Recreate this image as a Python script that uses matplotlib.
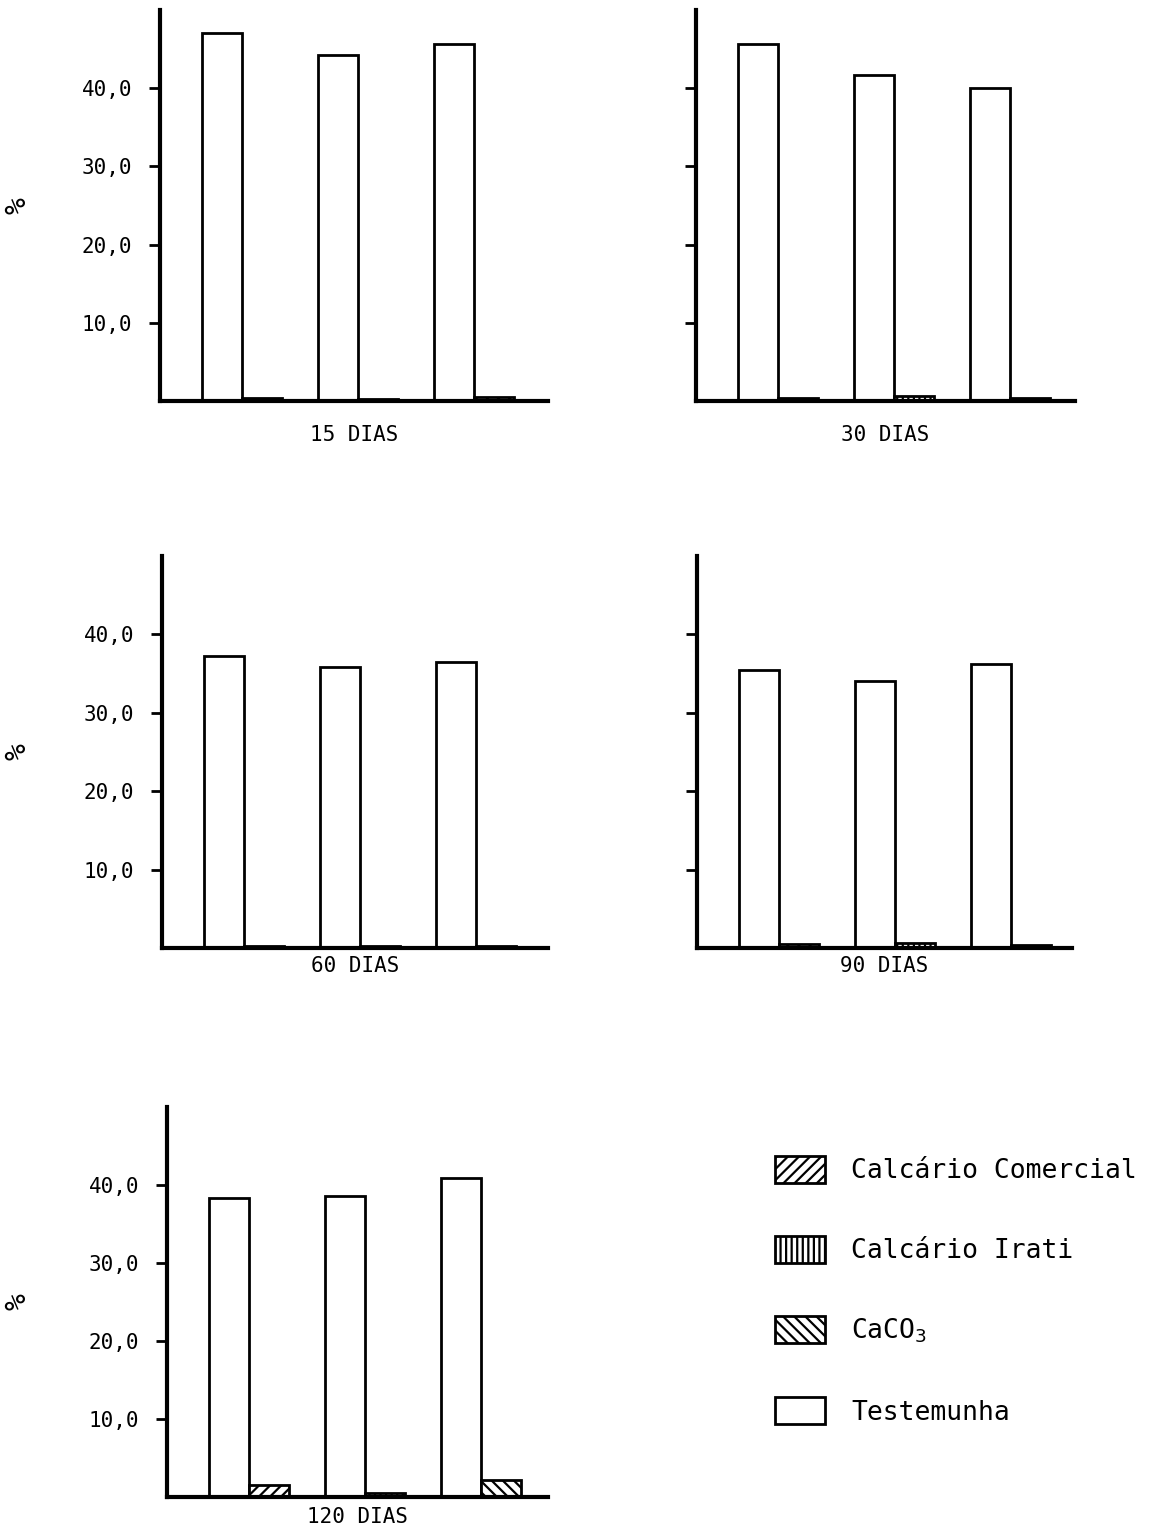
import matplotlib
matplotlib.use("Agg")
import matplotlib.pyplot as plt
from matplotlib.patches import Patch

# periodos de incubacao
dias = ["15 DIAS", "30 DIAS", "60 DIAS", "90 DIAS", "120 DIAS"]
tratamentos = ["Calcário Comercial", "Calcário Irati", "CaCO$_3$"]
hachuras = ["///", "|||", "\\\\\\"]

# % na testemunha (barra alta) e no tratamento (barra baixa), um grupo por corretivo
testemunha = [
    [47.0, 44.3, 45.6],
    [45.7, 41.7, 40.0],
    [37.3, 35.9, 36.5],
    [35.5, 34.0, 36.2],
    [38.3, 38.6, 40.9],
]
tratado = [
    [0.4, 0.3, 0.5],
    [0.4, 0.6, 0.4],
    [0.3, 0.3, 0.3],
    [0.5, 0.6, 0.4],
    [1.5, 0.5, 2.2],
]

yticks = [10, 20, 30, 40]
ytick_labels = ["10,0", "20,0", "30,0", "40,0"]

plt.rcParams["font.family"] = ["DejaVu Sans Mono"]
plt.rcParams["hatch.linewidth"] = 1.6

W, H = 1150, 1530
fig = plt.figure(figsize=(W / 100, H / 100), dpi=100)

# caixas dos paineis em pixels: esquerda, topo, direita, base
caixas = [
    (160, 10, 548, 401),
    (696, 10, 1075, 401),
    (162, 556, 548, 948),
    (697, 556, 1072, 948),
    (167, 1107, 548, 1497),
]
pads = [17, 17, 6, 6, 7]
px_por_grupo = 116.0
larg = 0.345

for k, (l, t, r, b) in enumerate(caixas):
    ax = fig.add_axes([l / W, 1 - b / H, (r - l) / W, (b - t) / H])
    xs = range(3)
    ax.bar([x - larg / 2 for x in xs], testemunha[k], width=larg,
           facecolor="white", edgecolor="black", linewidth=2)
    for j, x in enumerate(xs):
        ax.bar(x + larg / 2, tratado[k][j], width=larg, facecolor="white",
               edgecolor="black", linewidth=2, hatch=hachuras[j])
    xmin = -0.71
    ax.set_xlim(xmin, xmin + (r - l) / px_por_grupo)
    ax.set_ylim(0, 50)
    for s in ["top", "right"]:
        ax.spines[s].set_visible(False)
    ax.spines["left"].set_linewidth(3)
    ax.spines["bottom"].set_linewidth(3)
    ax.set_xticks([])
    ax.set_yticks(yticks)
    ax.tick_params(axis="y", length=8, width=2, pad=12, labelsize=15)
    if k in (1, 3):
        ax.set_yticklabels([])
    else:
        ax.set_yticklabels(ytick_labels)
        # simbolo de % deitado a esquerda do painel
        fig.text(17 / W, 1 - (t + b) / 2 / H, "%", rotation=90,
                 ha="center", va="center", fontsize=20)
    ax.set_xlabel(dias[k], fontsize=15, labelpad=pads[k])

handles = [Patch(facecolor="white", edgecolor="black", linewidth=2, hatch=h)
           for h in hachuras]
handles.append(Patch(facecolor="white", edgecolor="black", linewidth=2))
labels = tratamentos + ["Testemunha"]
fig.legend(handles, labels, loc="upper left",
           bbox_to_anchor=(764 / W, 1 - 1145 / H), frameon=False,
           fontsize=19, handlelength=1.9, handleheight=1.2,
           labelspacing=1.97, handletextpad=1.0, borderaxespad=0)

fig.savefig("out.png", dpi=100, facecolor="white")
